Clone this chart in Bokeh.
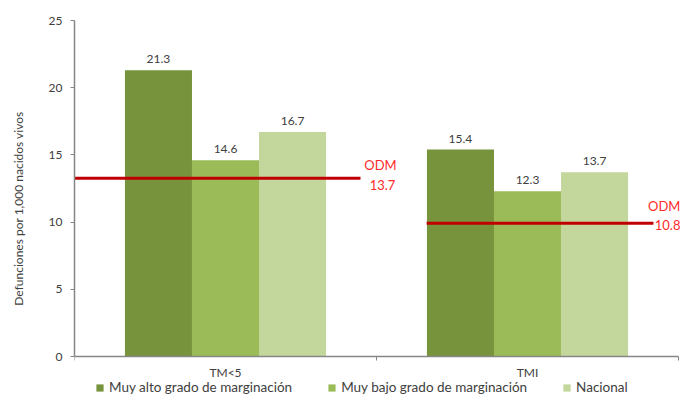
from bokeh.plotting import figure
from bokeh.models import Range1d, Label, Legend, LegendItem, ColumnDataSource, FixedTicker
from bokeh.core.properties import value
from bokeh.embed import file_html
from bokeh.resources import INLINE

# ---- data ----
categories = ["TM<5", "TMI"]
series_names = ["Muy alto grado de marginación", "Muy bajo grado de marginación", "Nacional"]
muy_alto = [21.3, 15.4]
muy_bajo = [14.6, 12.3]
nacional = [16.7, 13.7]
odm_targets = [13.7, 10.8]          # values written next to the red lines
odm_line_levels = [13.27, 9.92]     # levels at which the red lines are drawn in the picture
y_ticks = [0, 5, 10, 15, 20, 25]

# ---- styles ----
colors = ["#77933C", "#9BBB59", "#C3D69B"]
FONT = "Lato"
TXT = "#404040"
AXIS = "#868686"
RED_LINE = "#C00000"
RED_TXT = "#FF2A2A"

n = len(categories)
centers = [i + 0.5 for i in range(n)]
y_top = y_ticks[-1]

# frame spans the whole height below the top border; the x axis is pinned at y = 0
p = figure(x_range=Range1d(0, n * 1.0033), y_range=Range1d(-2.976, y_top),
           width=680, height=396, output_backend="svg", toolbar_location=None,
           min_border_left=74, min_border_right=0, min_border_top=20, min_border_bottom=0)
p.outline_line_color = None
p.xgrid.visible = False
p.ygrid.visible = False

w = 0.222
offs = [-w, 0.0, w]
renderers = []
for vals, off, colr in zip([muy_alto, muy_bajo, nacional], offs, colors):
    src = ColumnDataSource(dict(x=[c + off for c in centers], v=vals,
                                lab=[f"{v:.1f}" for v in vals]))
    r = p.vbar(x="x", top="v", width=w, source=src, fill_color=colr, line_color=None)
    renderers.append(r)
    p.text(x="x", y="v", text="lab", source=src,
           text_align="center", text_baseline="bottom", y_offset=-7,
           text_font=value(FONT), text_font_size="12px", text_color=TXT)

# ODM reference lines (offsets relative to category centre)
line_start = [-0.5, -0.334]
line_end = [0.447, 0.417]
x0 = [c + s for c, s in zip(centers, line_start)]
x1 = [c + e for c, e in zip(centers, line_end)]
p.segment(x0=x0, x1=x1, y0=odm_line_levels, y1=odm_line_levels,
          line_color=RED_LINE, line_width=3)

# label placement: (align, dx, dy) for "ODM" and for the value
lbl_specs = [
    [("center", 20, 13), ("center", 22, -7)],
    [("right", 27, 17), ("right", 27, -2)],
]
for xe, lvl, tgt, spec in zip(x1, odm_line_levels, odm_targets, lbl_specs):
    for txt, (al, ox, oy) in zip(["ODM", f"{tgt:.1f}"], spec):
        p.add_layout(Label(x=xe, y=lvl, x_offset=ox, y_offset=oy, text=txt,
                           text_align=al, text_baseline="middle",
                           text_font=FONT, text_font_size="13px", text_color=RED_TXT))

# axes
p.yaxis.ticker = FixedTicker(ticks=y_ticks)
p.yaxis.bounds = (0, y_top)
p.xaxis.ticker = FixedTicker(ticks=centers, minor_ticks=list(range(n + 1)))
p.xaxis.major_label_overrides = {c: cat for c, cat in zip(centers, categories)}
p.xaxis.bounds = (0, n)
p.xaxis.fixed_location = 0
p.yaxis.axis_label = "Defunciones por 1,000 nacidos vivos"
p.yaxis.axis_label_text_font = FONT
p.yaxis.axis_label_text_font_style = "normal"
p.yaxis.axis_label_text_font_size = "12px"
p.yaxis.axis_label_text_color = TXT
p.yaxis.axis_label_standoff = 20
for ax in (p.xaxis, p.yaxis):
    ax.axis_line_color = AXIS
    ax.axis_line_width = 1.5
    ax.major_tick_line_color = AXIS
    ax.minor_tick_line_color = AXIS
    ax.major_label_text_font = FONT
    ax.major_label_text_font_size = "12px"
    ax.major_label_text_color = TXT
p.yaxis.major_tick_out = 4
p.yaxis.major_tick_in = 0
p.yaxis.minor_tick_line_color = None
p.yaxis.major_label_standoff = 8
p.xaxis.major_tick_out = 0
p.xaxis.major_tick_in = 0
p.xaxis.minor_tick_out = 4
p.xaxis.minor_tick_in = 0
p.xaxis.major_label_standoff = 4

legend = Legend(items=[LegendItem(label=s, renderers=[r]) for s, r in zip(series_names, renderers)],
                orientation="horizontal", location=(21, 1),
                glyph_width=9, glyph_height=9, label_standoff=5, spacing=35,
                padding=0, margin=0, border_line_color=None, background_fill_alpha=0,
                label_height=11, label_text_font=FONT, label_text_font_size="13.5px",
                label_text_color=TXT)
p.add_layout(legend, "center")

open("out.html", "w").write(file_html(p, INLINE))
